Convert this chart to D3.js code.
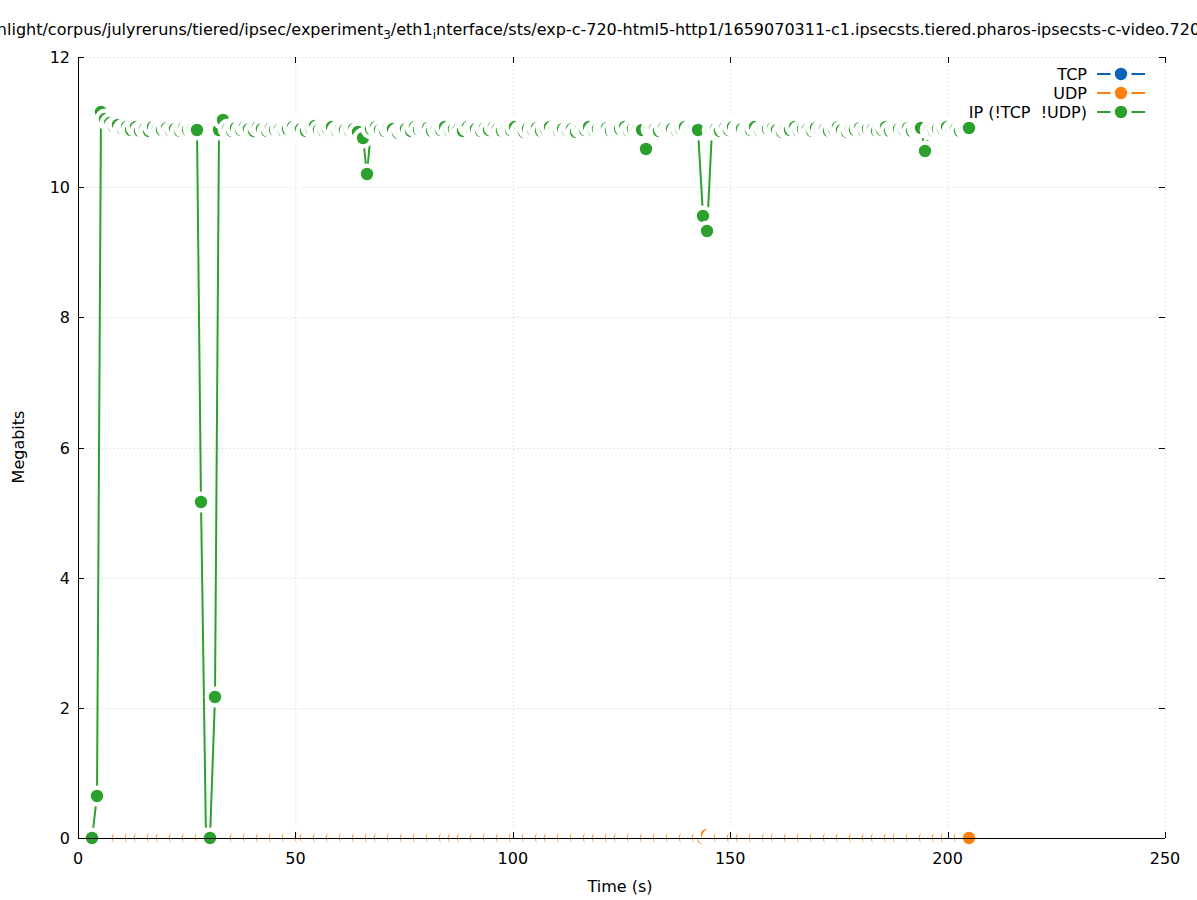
<!DOCTYPE html>
<html><head><meta charset="utf-8">
<script src="https://cdn.jsdelivr.net/npm/d3@7"></script>
<style>body{margin:0;background:#fff} text{font-family:"DejaVu Sans",sans-serif;}</style>
</head><body><svg id="c" width="1197" height="900"></svg>
<script>
const times = [
3.3,4.3,5.3,6.3,7.3,8.3,9.3,10.3,11.3,12.3,13.3,14.3,15.3,16.3,17.3,18.3,19.3,
20.4,21.4,22.4,23.4,24.4,25.4,26.4,27.4,28.4,29.4,30.4,31.4,32.4,33.4,34.4,35.4,36.4,37.4,38.4,39.4,40.4,41.4,42.4,43.4,44.4,45.4,46.4,47.4,48.4,49.4,50.4,51.4,52.4,
53.5,54.5,55.5,56.5,57.5,58.5,59.5,60.5,61.5,62.5,63.5,64.5,65.5,66.5,67.5,68.5,69.5,70.5,71.5,72.5,73.5,74.5,75.5,76.5,77.5,78.5,79.5,80.5,81.5,82.5,83.5,84.5,85.5,86.5,
87.6,88.6,89.6,90.6,91.6,92.6,93.6,94.6,95.6,96.6,97.6,98.6,99.6,100.6,101.6,102.6,103.6,104.6,105.6,106.6,107.6,108.6,109.6,110.6,111.6,112.6,113.6,114.6,115.6,116.6,117.6,118.6,119.6,
120.7,121.7,122.7,123.7,124.7,125.7,126.7,127.7,128.7,129.7,130.7,131.7,132.7,133.7,134.7,135.7,136.7,137.7,138.7,139.7,140.7,141.7,142.7,143.7,144.7,145.7,146.7,147.7,148.7,149.7,150.7,151.7,152.7,
153.8,154.8,155.8,156.8,157.8,158.8,159.8,160.8,161.8,162.8,163.8,164.8,165.8,166.8,167.8,168.8,169.8,170.8,171.8,172.8,173.8,174.8,175.8,176.8,177.8,178.8,179.8,180.8,181.8,182.8,183.8,184.8,185.8,186.8,
187.9,188.9,189.9,190.9,191.9,192.9,193.9,194.9,195.9,196.9,197.9,198.9,199.9,200.9,201.9,202.9,203.9,204.9
];
const ipValues = [
0,0.645,11.15,11.04,10.98,10.93,10.96,10.9,10.92,10.88,
10.93,10.87,10.9,10.86,10.92,10.89,10.88,10.91,10.87,10.9,
10.86,10.91,10.88,10.9,10.88,5.16,0,0,2.17,10.88,
11.03,10.9,10.87,10.91,10.88,10.93,10.89,10.86,10.92,10.9,
10.87,10.91,10.88,10.9,10.86,10.89,10.92,10.88,10.9,10.87,
10.91,10.94,10.88,10.86,10.9,10.92,10.87,10.89,10.88,10.86,
10.89,10.85,10.76,10.2,10.9,10.93,10.88,10.87,10.91,10.9,
10.83,10.88,10.9,10.87,10.92,10.88,10.89,10.91,10.86,10.9,
10.88,10.93,10.87,10.9,10.89,10.86,10.92,10.88,10.9,10.87,
10.91,10.88,10.93,10.89,10.87,10.9,10.88,10.92,10.86,10.84,
10.9,10.88,10.91,10.87,10.89,10.92,10.88,10.86,10.9,10.87,
10.89,10.85,10.9,10.88,10.92,10.87,10.9,10.89,10.91,10.86,
10.88,10.9,10.93,10.87,10.89,10.9,10.88,10.59,10.89,10.9,
10.87,10.91,10.88,10.9,10.86,10.89,10.92,10.88,10.9,10.88,
9.56,9.33,10.88,10.9,10.87,10.91,10.88,10.93,10.89,10.9,
10.87,10.88,10.92,10.86,10.9,10.89,10.91,10.88,10.85,10.9,
10.88,10.92,10.87,10.89,10.9,10.86,10.91,10.88,10.9,10.87,
10.89,10.92,10.88,10.85,10.9,10.88,10.91,10.87,10.89,10.9,
10.86,10.88,10.92,10.87,10.9,10.89,10.88,10.91,10.87,10.9,
10.91,10.56,10.88,10.87,10.9,10.89,10.92,10.88,10.9,10.87,
10.89,10.91
];
const udpValues = [
0,0,0,0,0,0,0,0,0,0,0,0,0,0,0,0,0,0,0,0,
0,0,0,0,0,0,0,0,0,0,0,0,0,0,0,0,0,0,0,0,
0,0,0,0,0,0,0,0,0,0,0,0,0,0,0,0,0,0,0,0,
0,0,0,0,0,0,0,0,0,0,0,0,0,0,0,0,0,0,0,0,
0,0,0,0,0,0,0,0,0,0,0,0,0,0,0,0,0,0,0,0,
0,0,0,0,0,0,0,0,0,0,0,0,0,0,0,0,0,0,0,0,
0,0,0,0,0,0,0,0,0,0,0,0,0,0,0,0,0,0,0,0,
0,0.04,0,0,0,0,0,0,0,0,0,0,0,0,0,0,0,0,0,0,
0,0,0,0,0,0,0,0,0,0,0,0,0,0,0,0,0,0,0,0,
0,0,0,0,0,0,0,0,0,0,0,0,0,0,0,0,0,0,0,0,
0,0
];
const tcpValues = [
0,0,0,0,0,0,0,0,0,0,0,0,0,0,0,0,0,0,0,0,
0,0,0,0,0,0,0,0,0,0,0,0,0,0,0,0,0,0,0,0,
0,0,0,0,0,0,0,0,0,0,0,0,0,0,0,0,0,0,0,0,
0,0,0,0,0,0,0,0,0,0,0,0,0,0,0,0,0,0,0,0,
0,0,0,0,0,0,0,0,0,0,0,0,0,0,0,0,0,0,0,0,
0,0,0,0,0,0,0,0,0,0,0,0,0,0,0,0,0,0,0,0,
0,0,0,0,0,0,0,0,0,0,0,0,0,0,0,0,0,0,0,0,
0,0,0,0,0,0,0,0,0,0,0,0,0,0,0,0,0,0,0,0,
0,0,0,0,0,0,0,0,0,0,0,0,0,0,0,0,0,0,0,0,
0,0,0,0,0,0,0,0,0,0,0,0,0,0,0,0,0,0,0,0,
0,0
];
const seriesNames = ["TCP", "UDP", "IP (!TCP  !UDP)"];
const seriesColors = ["#0a64b4", "#ff7f0e", "#2ca02c"];
const xTicks = [0, 50, 100, 150, 200, 250];
const yTicks = [0, 2, 4, 6, 8, 10, 12];
const titleParts = [
  {t:"nlight/corpus/julyreruns/tiered/ipsec/experiment", sub:false},
  {t:"3", sub:true},
  {t:"/eth1", sub:false},
  {t:"i", sub:true},
  {t:"nterface/sts/exp-c-720-html5-http1/1659070311-c1.ipsecsts.tiered.pharos-ipsecsts-c-video.720", sub:false}
];
const xLabel = "Time (s)";
const yLabel = "Megabits";

const W = 1197, H = 900;
const L = 78, R = 1165, T = 57, B = 838;
const svg = d3.select("#c");
svg.append("rect").attr("width", W).attr("height", H).attr("fill", "#fff");

const x = d3.scaleLinear().domain([0, 250]).range([L, R]);
const y = d3.scaleLinear().domain([0, 12]).range([B, T]);

// grid
const grid = svg.append("g").attr("stroke", "#cccccc").attr("stroke-width", 1).attr("stroke-dasharray", "1,3");
xTicks.filter(d => d > 0).forEach(d => grid.append("line").attr("x1", x(d)+0.5).attr("x2", x(d)+0.5).attr("y1", T).attr("y2", B));
yTicks.filter(d => d > 0).forEach(d => grid.append("line").attr("y1", Math.round(y(d))+0.5).attr("y2", Math.round(y(d))+0.5).attr("x1", L).attr("x2", R));

const rDot = 6.2, rHalo = 10.4;
const seriesVals = [tcpValues, udpValues, ipValues];
seriesVals.forEach((vals, si) => {
  const pts = times.map((t, i) => [Math.round(x(t)), Math.round(y(vals[i]))]);
  const g = svg.append("g");
  g.append("path").attr("d", d3.line()(pts)).attr("fill", "none")
    .attr("stroke", seriesColors[si]).attr("stroke-width", 2).attr("stroke-linejoin", "round");
  pts.forEach(p => {
    g.append("circle").attr("cx", p[0]).attr("cy", p[1]).attr("r", rHalo).attr("fill", "#fff");
    g.append("circle").attr("cx", p[0]).attr("cy", p[1]).attr("r", rDot).attr("fill", seriesColors[si]);
  });
});

// border (left + bottom) and ticks
const ax = svg.append("g").attr("stroke", "#000").attr("stroke-width", 1).attr("fill", "none");
ax.append("path").attr("d", `M${L+0.5},${T}V${B+0.5}H${R}`);
xTicks.forEach(d => {
  const px = Math.round(x(d)) + 0.5;
  ax.append("line").attr("x1", px).attr("x2", px).attr("y1", B).attr("y2", B-6);
  ax.append("line").attr("x1", px).attr("x2", px).attr("y1", T).attr("y2", T+6);
});
yTicks.forEach(d => {
  const py = Math.round(y(d)) + 0.5;
  ax.append("line").attr("x1", L).attr("x2", L+6).attr("y1", py).attr("y2", py);
  ax.append("line").attr("x1", R).attr("x2", R-6).attr("y1", py).attr("y2", py);
});

const fs = 16;
xTicks.forEach(d => svg.append("text").attr("x", x(d)).attr("y", 864).attr("text-anchor", "middle").attr("font-size", fs).text(d));
yTicks.forEach(d => svg.append("text").attr("x", 70).attr("y", y(d) + 6).attr("text-anchor", "end").attr("font-size", fs).text(d));

svg.append("text").attr("x", 620).attr("y", 892).attr("text-anchor", "middle").attr("font-size", fs).text(xLabel);
svg.append("text").attr("transform", "translate(24,447) rotate(-90)").attr("text-anchor", "middle").attr("font-size", fs).text(yLabel);

// title
const tt = svg.append("text").attr("x", W/2).attr("y", 35).attr("text-anchor", "middle").attr("font-size", fs);
titleParts.forEach((p, i) => {
  const s = tt.append("tspan").text(p.t);
  if (p.sub) s.attr("font-size", 12).attr("dy", 4);
  else if (i > 0 && titleParts[i-1].sub) s.attr("dy", -4);
});

// legend
seriesNames.forEach((name, i) => {
  const ly = 74 + i * 19;
  svg.append("text").attr("x", 1087).attr("y", ly + 6).attr("text-anchor", "end")
    .attr("font-size", fs).style("white-space", "pre").text(name);
  svg.append("line").attr("x1", 1097).attr("x2", 1145).attr("y1", ly).attr("y2", ly)
    .attr("stroke", seriesColors[i]).attr("stroke-width", 2);
  svg.append("circle").attr("cx", 1121).attr("cy", ly).attr("r", 10.5).attr("fill", "#fff");
  svg.append("circle").attr("cx", 1121).attr("cy", ly).attr("r", rDot).attr("fill", seriesColors[i]);
});
</script></body></html>
